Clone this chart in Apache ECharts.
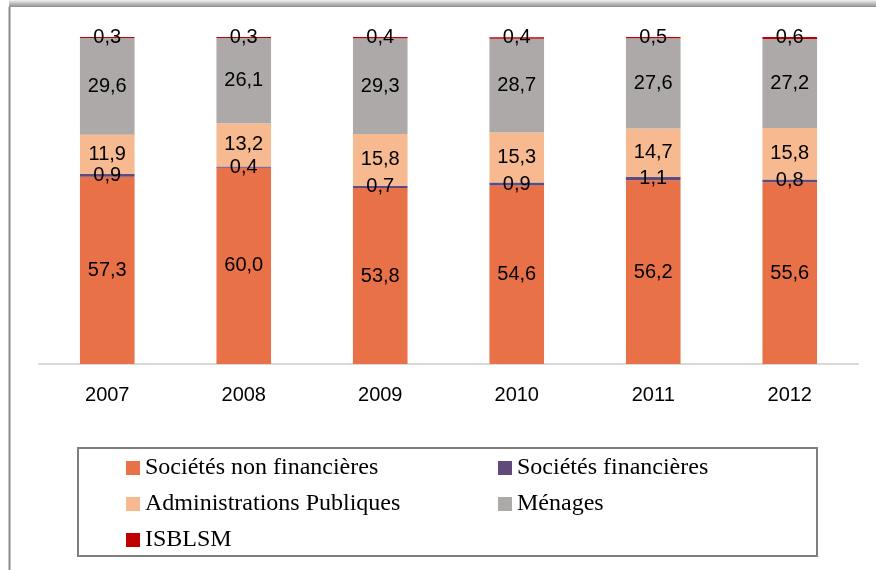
<!DOCTYPE html>
<html>
<head>
<meta charset="utf-8">
<script src="https://cdn.jsdelivr.net/npm/echarts@6/dist/echarts.min.js"></script>
<style>
  html, body { margin: 0; padding: 0; background: #fff; }
  #chart { width: 876px; height: 570px; }
</style>
</head>
<body>
<div id="chart"></div>
<script>
// années
var years = ['2007', '2008', '2009', '2010', '2011', '2012'];

// parts en %
var snf      = [57.3, 60.0, 53.8, 54.6, 56.2, 55.6];  // Sociétés non financières
var sf       = [0.9, 0.4, 0.7, 0.9, 1.1, 0.8];        // Sociétés financières
var apu      = [11.9, 13.2, 15.8, 15.3, 14.7, 15.8];  // Administrations Publiques
var menages  = [29.6, 26.1, 29.3, 28.7, 27.6, 27.2];  // Ménages
var isblsm   = [0.3, 0.3, 0.4, 0.4, 0.5, 0.6];        // ISBLSM

var labelFont = 'Liberation Sans';
var legendFont = 'Liberation Serif';

function fr(p) {
    return p.value.toFixed(1).replace('.', ',');
}

function barSerie(name, data, color) {
    return {
        name: name,
        type: 'bar',
        stack: 'tot',
        barWidth: '40%',
        data: data,
        itemStyle: { color: color },
        label: {
            show: true,
            position: 'inside',
            formatter: fr,
            color: '#000',
            textBorderWidth: 0,
            fontFamily: labelFont,
            fontSize: 20
        }
    };
}

var chart = echarts.init(document.getElementById('chart'));

var legendText = { fontFamily: legendFont, fontSize: 24, color: '#000', lineHeight: 22 };

var option = {
    backgroundColor: '#fff',
    animation: false,
    grid: { left: 39, right: 18, top: 37, bottom: 206 },
    xAxis: {
        type: 'category',
        data: years,
        axisLine: { lineStyle: { color: '#d9d9d9', width: 2 } },
        axisTick: { show: false },
        axisLabel: {
            color: '#000',
            fontFamily: labelFont,
            fontSize: 20,
            margin: 21
        }
    },
    yAxis: {
        type: 'value',
        min: 0,
        max: 100,
        show: false
    },
    legend: [{
        orient: 'vertical',
        left: 121,
        top: 451,
        icon: 'rect',
        itemWidth: 14,
        itemHeight: 14,
        itemGap: 12,
        selectedMode: false,
        textStyle: legendText,
        data: ['Sociétés non financières', 'Administrations Publiques', 'ISBLSM']
    }, {
        orient: 'vertical',
        left: 493,
        top: 451,
        icon: 'rect',
        itemWidth: 14,
        itemHeight: 14,
        itemGap: 12,
        selectedMode: false,
        textStyle: legendText,
        data: ['Sociétés financières', 'Ménages']
    }],
    graphic: [
        // bandeau ombré en haut
        {
            type: 'rect',
            shape: { x: 9, y: 0, width: 867, height: 7 },
            style: {
                fill: new echarts.graphic.LinearGradient(0, 0, 0, 1, [
                    { offset: 0, color: '#f2f2f2' },
                    { offset: 1, color: '#8c8c8c' }
                ])
            },
            silent: true
        },
        // bord gauche
        {
            type: 'line',
            shape: { x1: 9.5, y1: 7, x2: 9.5, y2: 570 },
            style: { stroke: '#8c8c8c', lineWidth: 2 },
            silent: true
        },
        // cadre de la légende
        {
            type: 'rect',
            shape: { x: 78, y: 448, width: 739, height: 108 },
            style: { fill: 'none', stroke: '#7f7f7f', lineWidth: 2 },
            silent: true
        }
    ],
    series: [
        barSerie('Sociétés non financières', snf, '#E97148'),
        barSerie('Sociétés financières', sf, '#604A7B'),
        barSerie('Administrations Publiques', apu, '#F6B990'),
        barSerie('Ménages', menages, '#ADA9A8'),
        barSerie('ISBLSM', isblsm, '#C00000')
    ]
};

chart.setOption(option);
</script>
</body>
</html>
